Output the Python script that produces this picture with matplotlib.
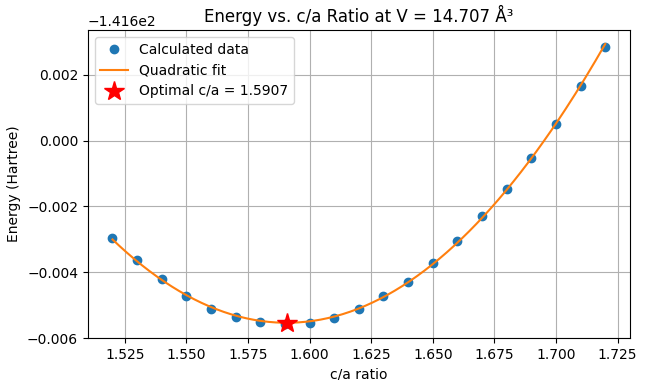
import numpy as np
import matplotlib
matplotlib.use("Agg")
import matplotlib.pyplot as plt

ca_ratio = [1.52, 1.53, 1.54, 1.55, 1.56, 1.57, 1.58, 1.59, 1.60, 1.61, 1.62,
            1.63, 1.64, 1.65, 1.66, 1.67, 1.68, 1.69, 1.70, 1.71, 1.72]
energy_offset = -141.6
energy_rel = [-0.002945, -0.003640, -0.004220, -0.004709, -0.005114, -0.005347,
              -0.005509, -0.005565, -0.005545, -0.005380, -0.005110, -0.004735,
              -0.004294, -0.003716, -0.003038, -0.002278, -0.001458, -0.000527,
              0.000506, 0.001671, 0.002846]
volume_label = "14.707"

x = np.array(ca_ratio)
y = energy_offset + np.array(energy_rel)

coef = np.polyfit(x, y, 2)
opt = -coef[1] / (2 * coef[0])
xf = np.linspace(x.min(), x.max(), 200)
yf = np.polyval(coef, xf)

fig, ax = plt.subplots(figsize=(6.46, 3.8), dpi=100)
fig.subplots_adjust(left=0.136, right=0.975, top=0.921, bottom=0.11)
ax.plot(x, y, 'o', label='Calculated data')
ax.plot(xf, yf, '-', label='Quadratic fit')
ax.plot(opt, np.polyval(coef, opt), 'r*', markersize=15, label=f'Optimal c/a = {opt:.4f}')
ax.set_xlabel('c/a ratio')
ax.set_ylabel('Energy (Hartree)')
ax.set_title(f'Energy vs. c/a Ratio at V = {volume_label} Å³')
ax.grid(True)
ax.legend(loc='upper left')
ax.set_ylim(bottom=energy_offset - 0.006005)
fig.savefig('out.png', dpi=100)
